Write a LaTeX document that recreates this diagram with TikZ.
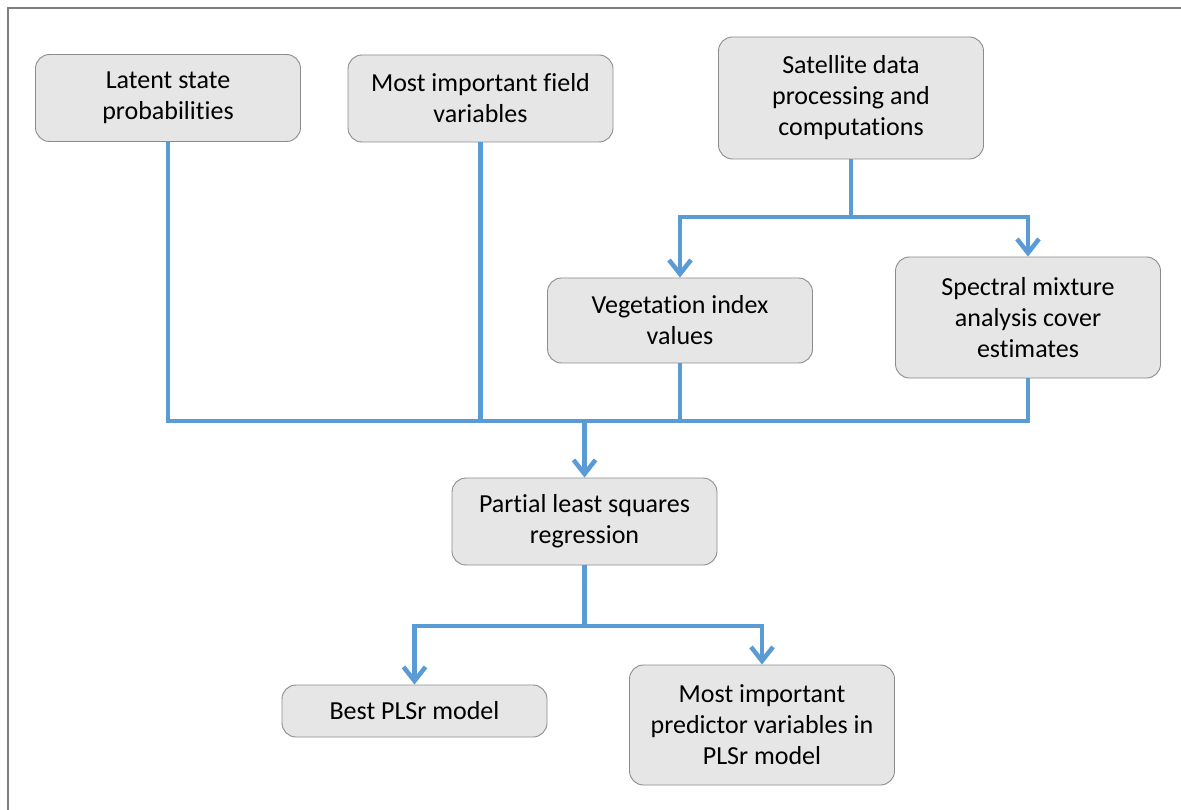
\documentclass[tikz,border=0pt]{standalone}
\usepackage{fontspec}
\setmainfont{Carlito}[Ligatures=NoCommon]
\usetikzlibrary{arrows.meta}
\definecolor{flowblue}{HTML}{5B9BD5}
\definecolor{boxfill}{HTML}{E6E6E6}
\definecolor{boxline}{HTML}{8C8C8C}
\definecolor{framegray}{HTML}{7F7F7F}
\begin{document}
\begin{tikzpicture}[x=1pt,y=-1pt,
  box/.style={draw=boxline, line width=0.9pt, fill=boxfill, rounded corners=14pt,
    align=center, inner sep=0pt, minimum width=265pt,
    font=\fontsize{26}{31}\selectfont},
  link/.style={draw=flowblue, line width=4.5pt},
  arrow/.style={link, -{Straight Barb[length=14pt,width=22pt]}}]
\useasboundingbox (0,0) rectangle (1181,810);
\fill[white] (0,0) rectangle (1181,810);
% outer frame
\draw[framegray, line width=2pt] (8,810) -- (8,8) -- (1181,8);

% boxes
\node[box, minimum height=87pt]  (lat)  at (168,98)     {Latent state\\probabilities};
\node[box, minimum height=87pt]  (fld)  at (480.5,98.5) {Most important field\\variables};
\node[box, minimum height=122pt] (sat)  at (851,98)     {Satellite data\\processing and\\computations};
\node[box, minimum height=85pt]  (veg)  at (680,320.5)  {Vegetation index\\values};
\node[box, minimum height=121pt] (spe)  at (1028,317.5) {Spectral mixture\\analysis cover\\estimates};
\node[box, minimum height=87pt]  (pls)  at (584.5,521.5){Partial least squares\\regression};
\node[box, minimum height=52pt]  (best) at (414.5,711)  {Best PLSr model};
\node[box, minimum height=120pt] (pred) at (762,725)    {Most important\\predictor variables in\\PLSr model};

% junction points
\coordinate (busA) at (584.5,421);
\coordinate (busB) at (851,217);
\coordinate (busC) at (584.5,626);

% satellite branch
\draw[link] (sat.south) -- (busB);
\draw[arrow] (busB) -| (veg.north);
\draw[arrow] (busB) -| (spe.north);

% inputs merging into the regression
\draw[link] (lat.south) -- (lat.south |- busA) -- (spe.south |- busA) -- (spe.south);
\draw[link] (fld.south) -- (fld.south |- busA);
\draw[link] (veg.south) -- (veg.south |- busA);
\draw[arrow] (busA) -- (pls.north);

% regression outputs
\draw[link] (pls.south) -- (busC);
\draw[arrow] (busC) -| (best.north);
\draw[arrow] (busC) -| (pred.north);
\end{tikzpicture}
\end{document}
